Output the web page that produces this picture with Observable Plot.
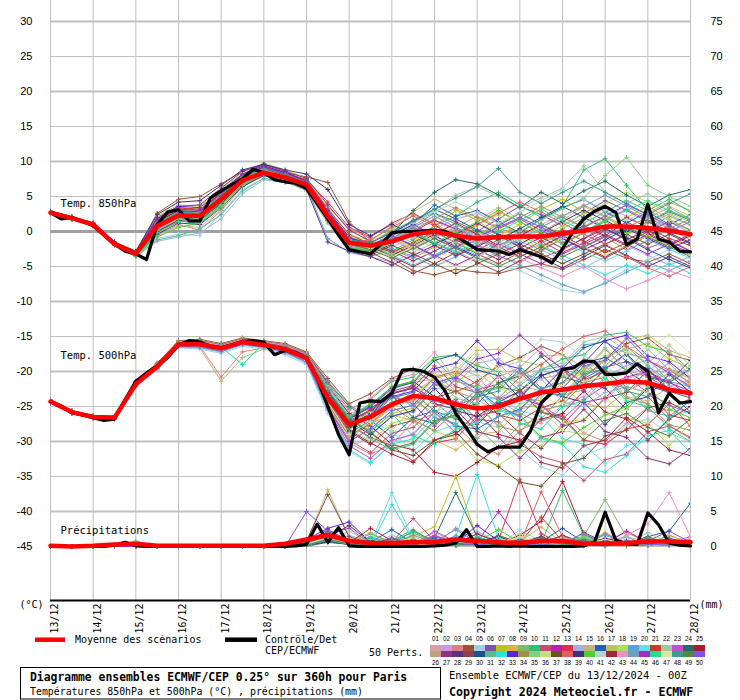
<!DOCTYPE html>
<html><head><meta charset="utf-8">
<script src="https://cdn.jsdelivr.net/npm/d3@7"></script>
<script src="https://cdn.jsdelivr.net/npm/@observablehq/plot@0.6"></script>
<style>
html,body{margin:0;padding:0;background:#fff;}
#wrap{position:relative;width:740px;height:700px;overflow:hidden;background:#fff;}
#chart{position:absolute;left:0;top:0;}
#legend{position:absolute;left:0;top:635px;}
</style></head>
<body><div id="wrap"><div id="chart"></div><div id="legend"></div></div>
<script>
const dayLabels = ["13/12","14/12","15/12","16/12","17/12","18/12","19/12","20/12","21/12","22/12","23/12","24/12","25/12","26/12","27/12","28/12"];
const tempTicks = [30,25,20,15,10,5,0,-5,-10,-15,-20,-25,-30,-35,-40,-45];
const memberColors = ["#d4a0a8","#cc99e6","#e08080","#a05030","#a0d0e8","#8050b0","#c0c020","#d8b050","#80b870","#30c070","#c05070","#b820b0","#e03050","#a0b0e0","#c8b080","#2060b8","#c0c060","#b0e050","#60a0d8","#60e0e8","#c04020","#a0c8a0","#c050d0","#207060","#b01830","#c0a080","#903080","#603080","#904050","#205090","#50c090","#30e0e0","#6020e0","#a09050","#80d080","#c0e080","#705020","#e06060","#403080","#50d030","#b0d8c8","#a02840","#e890c8","#70a0b8","#a030c0","#20e090","#d8e8a0","#409890","#508840","#8050f0"];

// Members: one value every 12 h from 13/12 00Z
const t850 = [
[2.8,2.0,1.1,-1.7,-3.1,1.2,2.8,2.4,5.0,7.6,8.8,7.9,7.2,2.5,-1.2,-2.4,-1.0,0.8,1.5,0.2,-1.5,-2.2,-0.8,1.0,2.4,0.5,-1.8,-0.6,1.2,2.5,0.8],
[2.6,1.8,0.9,-1.9,-3.3,0.4,2.0,1.6,4.2,7.0,8.3,7.4,6.2,1.8,-2.4,-3.0,-2.2,-1.0,0.4,1.8,2.6,1.2,-0.4,-1.6,-0.5,1.6,3.4,2.2,0.6,1.4,-0.2],
[2.7,1.9,1.0,-1.8,-3.4,-0.6,1.0,0.2,3.0,6.4,8.0,7.6,7.0,3.6,0.4,-1.0,-2.6,-3.8,-2.2,-0.4,-1.8,-3.6,-4.4,-2.8,-1.0,0.6,-0.8,-2.6,-1.4,0.4,-1.2],
[2.9,2.1,1.2,-1.5,-2.9,2.6,4.6,5.0,6.8,8.6,9.4,8.4,7.8,7.0,1.4,-1.6,-3.8,-5.6,-6.2,-5.4,-5.8,-6.0,-5.2,-4.6,-5.4,-4.0,-2.6,-3.8,-4.4,-3.2,-4.6],
[2.5,1.7,0.8,-2.0,-3.5,-1.0,-0.4,-0.6,2.6,6.0,7.6,7.2,6.0,1.4,-2.0,-2.8,-1.4,0.2,-0.8,-2.4,-3.6,-4.8,-5.6,-7.0,-8.4,-8.8,-7.2,-5.4,-4.0,-2.6,-3.4],
[2.8,2.0,1.1,-1.6,-3.0,1.0,2.6,2.0,4.8,7.4,8.6,7.8,6.8,2.2,-1.6,-2.0,-0.4,1.6,2.6,1.4,0.0,1.8,3.6,2.4,0.8,2.6,4.4,3.0,1.4,2.8,1.6],
[2.7,1.9,1.0,-1.8,-3.2,0.8,2.4,2.6,4.4,7.2,8.6,8.0,6.6,2.0,-2.2,-3.4,-3.0,-1.6,0.8,3.0,1.6,-0.6,1.0,3.2,4.6,2.8,0.4,2.0,3.6,1.8,0.2],
[2.6,1.8,0.9,-1.9,-3.1,1.6,3.2,2.8,5.6,8.0,9.0,8.2,7.4,3.0,-0.8,-1.6,0.2,2.4,1.2,-0.6,1.0,2.8,1.4,-0.4,-1.8,-0.2,1.8,3.8,2.6,4.2,3.0],
[2.8,2.0,1.1,-1.7,-3.3,0.2,1.6,1.2,3.6,6.8,8.2,7.2,5.8,1.2,-2.6,-2.2,-0.8,-2.0,-3.4,-1.6,0.2,-1.4,-3.0,-1.8,0.4,2.0,0.6,-1.2,0.4,2.2,1.0],
[2.7,1.9,1.0,-1.8,-3.2,1.2,2.8,2.2,4.6,7.4,8.8,7.6,6.6,2.4,-1.4,-1.8,-2.8,-1.2,0.8,2.2,4.2,5.6,3.8,2.0,3.6,8.8,10.4,6.6,3.0,4.6,2.8],
[2.6,1.8,0.9,-1.9,-3.4,0.0,1.4,1.8,4.0,6.6,8.0,7.4,6.8,2.8,-1.0,-2.6,-1.6,-0.2,-1.6,-3.2,-2.0,-0.4,-2.2,-3.8,-2.6,-1.0,0.8,-0.8,-2.4,-1.2,-2.8],
[2.8,2.0,1.1,-1.7,-3.0,0.6,2.2,2.0,5.2,8.2,9.6,8.6,7.0,1.6,-2.8,-3.2,-1.8,0.0,1.6,0.4,-1.2,0.8,2.6,1.0,-0.6,-2.2,-0.6,1.4,-0.2,-1.8,-3.0],
[2.7,1.9,1.0,-1.8,-3.2,1.8,3.4,3.0,5.6,8.2,9.2,8.0,7.4,4.2,0.6,-0.8,1.2,2.6,1.0,-1.0,-2.6,-1.2,0.4,-1.4,-3.0,-1.6,0.2,2.0,0.6,-1.0,-2.0],
[2.5,1.7,0.8,-2.0,-3.6,-1.4,-0.8,-0.2,1.8,5.4,7.4,7.0,6.2,2.6,-1.8,-3.6,-4.4,-3.0,-1.6,-2.8,-4.2,-3.0,-1.4,-2.6,-4.0,-5.2,-3.6,-2.0,-3.4,-4.8,-3.6],
[2.8,2.0,1.1,-1.6,-3.0,1.4,3.0,2.6,5.2,7.8,9.0,8.2,7.2,2.8,-1.2,-1.4,0.8,2.8,4.6,3.2,1.6,3.4,1.8,0.0,1.6,3.6,2.0,0.4,2.2,0.6,-0.8],
[2.6,1.8,0.9,-1.9,-3.3,0.8,2.4,1.6,4.2,7.0,8.4,7.6,6.6,2.0,-2.0,-2.6,-0.6,1.0,3.8,2.2,3.0,1.4,-0.2,1.8,3.4,4.6,2.8,1.2,2.8,1.0,2.4],
[2.7,1.9,1.0,-1.8,-3.1,1.0,2.6,2.4,4.8,7.6,8.8,7.8,6.8,2.2,-1.6,-2.4,-3.6,-2.2,-0.6,-2.0,-0.4,1.2,-0.4,-2.0,-0.8,0.8,2.2,0.6,-0.8,0.8,-0.6],
[2.9,2.1,1.2,-1.5,-2.8,2.2,3.8,3.6,6.0,8.4,9.8,8.8,7.6,3.4,-0.6,-1.2,0.6,-0.8,-2.4,-1.0,0.8,2.4,0.8,-0.8,0.8,2.6,4.0,5.6,4.2,2.6,1.4],
[2.6,1.8,0.9,-1.9,-3.4,0.0,1.6,1.0,3.8,6.8,8.2,7.4,6.4,-1.0,-3.0,-3.6,-2.4,-3.6,-5.0,-3.6,-2.0,-3.4,-4.8,-6.2,-7.6,-8.6,-7.4,-5.8,-4.4,-5.6,-4.2],
[2.7,1.9,1.0,-1.8,-3.2,0.6,2.2,1.4,4.4,7.2,8.6,7.8,6.8,2.4,-1.4,-2.2,-1.0,-2.4,-0.8,0.6,-1.0,-2.6,-1.2,0.4,-1.4,-3.0,-4.2,-2.8,-1.2,-2.6,-3.8],
[2.8,2.0,1.1,-1.7,-3.1,1.6,3.4,3.2,5.4,8.0,9.2,8.4,7.4,3.2,-0.4,-1.8,-3.0,-1.6,0.0,-1.6,-3.2,-4.6,-3.0,-1.4,0.2,-1.4,-3.0,-1.6,0.0,1.4,0.2],
[2.5,1.7,0.8,-2.0,-3.5,-0.6,0.8,0.6,3.2,6.6,8.4,7.8,6.4,1.8,-2.2,-2.0,-0.6,1.2,3.0,5.2,6.4,5.0,3.4,4.8,6.2,9.4,5.6,4.0,5.4,3.6,2.2],
[2.7,1.9,1.0,-1.8,-3.2,1.2,2.6,2.2,4.6,7.4,8.8,8.0,7.0,2.6,-1.2,-2.6,-1.2,0.4,-1.0,-2.4,-1.2,0.4,1.8,0.2,-1.6,-0.2,1.6,3.2,1.6,0.0,1.4],
[2.6,1.8,0.9,-1.9,-3.0,0.4,2.0,1.8,4.0,6.8,8.2,7.4,6.2,1.8,-2.4,-2.8,-0.4,3.0,5.6,7.4,6.8,5.2,3.4,5.6,4.0,5.8,7.2,5.2,3.6,5.2,6.0],
[2.8,2.0,1.1,-1.7,-3.3,0.8,2.4,2.2,4.8,7.6,8.8,7.8,6.6,2.0,-1.8,-2.2,-3.4,-2.0,-0.4,1.2,-0.4,-2.0,-0.6,1.0,-0.6,-2.2,-3.6,-2.0,-0.4,-2.0,-0.6],
[2.7,1.9,1.0,-1.8,-3.2,1.0,2.6,2.4,5.0,7.8,9.0,8.2,7.0,2.4,-1.4,-2.4,-1.0,0.6,-0.8,0.6,2.2,0.6,-1.0,0.6,2.2,3.8,2.2,0.6,2.0,3.4,1.8],
[2.9,2.1,1.2,-1.5,-2.9,2.0,3.6,3.8,6.2,8.6,9.6,8.6,7.6,3.8,0.2,-1.4,-2.8,-4.2,-2.8,-1.2,-2.6,-4.0,-2.4,-0.8,-2.4,-1.0,0.4,-1.2,0.2,-1.4,-2.8],
[2.6,1.8,0.9,-1.9,-3.4,-0.4,1.2,1.0,3.4,6.4,8.0,7.2,6.0,-1.5,-2.8,-3.6,-4.8,-3.4,-2.0,-3.4,-2.2,-0.6,-2.2,-3.8,-5.2,-3.6,-2.0,-3.4,-5.0,-3.6,-5.0],
[2.7,1.9,1.0,-1.8,-3.2,0.6,2.2,2.6,4.6,7.2,8.4,7.6,6.8,2.2,-1.6,-3.0,-4.4,-6.0,-4.6,-3.0,-4.4,-5.8,-4.2,-2.6,-1.0,-2.4,-3.8,-2.2,-0.6,-2.0,-3.4],
[2.8,2.0,1.1,-1.7,-3.1,1.4,3.0,2.8,5.4,8.0,9.2,8.2,7.2,2.8,-1.0,-1.6,-0.2,1.4,3.2,1.8,0.2,-1.2,0.4,2.0,3.6,2.0,0.4,-1.0,-2.6,-4.0,-5.2],
[2.5,1.7,0.8,-2.0,-3.6,-1.2,-0.6,0.4,2.4,5.8,7.6,7.0,6.4,2.0,-2.0,-2.6,-1.0,0.8,2.6,1.0,-0.6,1.0,2.6,1.0,-0.4,1.2,2.8,4.4,3.0,1.6,0.2],
[2.7,1.9,1.0,-1.8,-3.2,1.0,2.4,2.0,4.6,7.4,8.6,7.8,6.8,2.4,-1.4,-2.2,-3.4,-4.8,-3.4,-2.0,-3.4,-2.0,-0.6,-2.0,-3.4,-4.8,-6.2,-4.8,-6.0,-4.6,-6.0],
[2.8,2.0,1.1,-1.6,-3.0,1.8,3.6,3.4,5.8,8.2,9.4,8.4,7.2,3.0,-0.8,-2.0,-0.6,1.0,-0.6,-2.2,-3.6,-2.2,-0.8,0.6,-1.0,-2.6,-1.2,0.4,-1.0,-2.4,-1.2],
[2.6,1.8,0.9,-1.9,-3.3,0.2,1.8,1.4,3.8,6.8,8.2,7.6,6.6,2.0,-1.8,-2.8,-1.4,0.2,1.8,3.4,2.0,0.4,2.0,3.6,2.0,0.6,2.0,0.6,-0.8,0.6,-0.8],
[2.7,1.9,1.0,-1.8,-3.2,0.8,2.4,2.0,4.4,7.2,8.6,7.8,6.6,2.2,-1.6,-2.0,-3.2,-1.8,-0.2,-1.6,-3.0,-1.6,0.0,1.6,3.2,4.8,8.0,10.6,6.6,5.0,3.6],
[2.8,2.0,1.1,-1.7,-3.1,1.2,2.8,2.6,5.0,7.6,8.8,8.0,7.0,2.6,-1.2,-2.4,-1.0,-2.4,-3.8,-2.4,-1.0,0.4,-1.0,-2.4,-1.0,0.6,2.0,0.6,-0.8,-2.2,-0.8],
[2.6,1.8,0.9,-1.9,-3.4,0.0,1.6,1.6,4.0,7.0,8.4,7.4,6.2,1.6,-2.2,-3.4,-2.0,-3.2,-4.6,-6.0,-4.6,-3.2,-1.8,-3.2,-4.6,-3.2,-1.8,-0.4,-1.8,-0.4,-1.8],
[2.7,1.9,1.0,-1.8,-3.2,1.0,2.6,2.2,4.6,7.2,8.6,7.8,6.8,2.2,-1.6,-1.2,0.6,2.2,0.8,-0.8,1.0,2.6,4.2,2.8,1.2,-0.4,-1.8,-3.6,-5.2,-6.4,-5.0],
[2.9,2.1,1.2,-1.5,-2.8,2.4,4.2,4.4,6.6,8.8,9.6,8.8,8.2,6.0,1.0,-0.6,1.0,-0.4,-1.8,-0.4,1.2,-0.4,-1.8,-0.2,1.4,3.0,1.6,0.0,1.4,-0.2,-1.6],
[2.5,1.7,0.8,-2.0,-3.5,-0.8,0.6,1.2,3.4,6.6,8.2,7.6,6.4,1.8,-2.0,-2.8,-1.6,-0.2,-1.6,-0.2,1.4,3.0,1.4,-0.2,-1.8,-0.2,1.4,-0.2,1.4,3.0,1.8],
[2.7,1.9,1.0,-1.8,-3.2,0.6,2.2,1.8,4.4,7.2,8.6,7.8,6.6,2.2,-1.4,-1.8,-0.4,1.2,2.8,4.2,2.8,1.2,2.8,4.4,6.0,4.6,3.0,1.6,3.0,1.6,0.0],
[2.8,2.0,1.1,-1.7,-3.1,1.4,3.0,2.4,5.0,7.8,9.0,8.0,7.0,2.6,-1.0,-2.2,-3.6,-5.0,-3.6,-2.2,-0.8,-2.2,-3.6,-2.2,-0.6,0.8,-0.6,-2.0,-0.6,0.8,-0.6],
[2.6,1.8,0.9,-1.9,-3.3,0.2,1.8,1.2,3.8,6.8,8.2,7.4,6.4,1.8,-2.0,-2.6,-1.2,-2.6,-1.0,0.6,-0.8,-2.4,-3.8,-5.2,-6.4,-5.0,-6.8,-8.2,-7.0,-5.6,-6.6],
[2.7,1.9,1.0,-1.8,-3.2,1.0,2.6,2.4,4.8,7.6,8.8,7.8,6.8,2.4,-1.4,-2.4,-1.0,0.6,2.2,0.6,-1.0,-2.6,-1.0,0.6,2.2,3.6,5.2,3.6,2.0,0.4,1.8],
[2.8,2.0,1.1,-1.6,-3.0,1.6,3.2,3.0,5.4,8.0,9.2,8.2,7.2,2.8,-1.0,-2.0,-0.6,-2.0,-3.4,-4.8,-3.4,-1.8,-3.2,-4.6,-3.2,-1.8,-0.4,-1.8,-3.2,-1.8,-0.4],
[2.6,1.8,0.9,-1.9,-3.4,-0.2,1.4,1.4,3.8,6.8,8.2,7.4,6.4,1.8,-2.2,-3.0,-1.6,0.0,-1.6,-3.0,-1.6,0.0,1.6,3.2,1.6,0.0,1.6,3.0,4.4,3.0,1.6],
[2.7,1.9,1.0,-1.8,-3.2,0.8,2.4,2.2,4.6,7.4,8.6,7.8,6.6,2.2,-1.4,-2.4,-3.6,-2.2,-3.6,-5.0,-3.6,-2.2,-0.8,0.6,-0.8,-2.2,-3.4,-2.0,-0.6,-2.0,-3.4],
[2.8,2.0,1.1,-1.7,-3.1,1.2,2.8,2.6,5.2,7.8,9.0,8.2,7.0,2.6,-1.2,-1.6,0.0,1.6,3.2,4.8,6.4,9.0,5.6,4.0,5.6,7.2,5.6,4.0,2.4,4.0,5.4],
[2.6,1.8,0.9,-1.9,-3.3,0.4,2.0,1.6,4.2,7.0,8.4,7.6,6.4,2.0,-1.8,-2.6,-3.8,-2.4,-1.0,-2.4,-3.8,-5.0,-3.6,-2.2,-3.6,-2.2,-0.8,0.6,-0.8,-2.2,-3.6],
[2.7,1.9,1.0,-1.8,-3.2,1.0,2.6,2.0,4.6,7.4,8.6,7.8,6.8,2.4,-1.4,-2.0,-0.6,-2.0,-3.6,-2.2,-0.8,0.6,2.0,0.6,-0.8,0.6,2.2,3.8,2.4,0.8,-0.6]
];

const t500 = [
[-24.2,-25.7,-26.4,-26.5,-21.6,-19.0,-15.8,-15.8,-16.4,-15.4,-15.8,-16.4,-17.6,-22.4,-26.0,-25.0,-22.6,-21.4,-20.2,-22.8,-24.0,-25.8,-23.2,-21.0,-20.4,-18.2,-19.6,-22.8,-21.4,-19.6,-20.8],
[-24.4,-25.9,-26.6,-26.8,-22.0,-19.6,-16.4,-16.2,-17.0,-16.0,-16.4,-17.0,-18.4,-24.4,-28.6,-27.6,-25.2,-22.8,-21.2,-19.4,-20.6,-24.2,-26.0,-27.4,-24.8,-23.6,-20.8,-19.2,-18.4,-20.2,-22.4],
[-24.3,-25.8,-26.5,-26.6,-21.8,-19.2,-16.0,-16.4,-20.8,-17.2,-16.6,-17.2,-18.6,-25.2,-30.2,-31.8,-30.4,-27.2,-26.0,-27.8,-30.6,-31.8,-28.4,-27.0,-26.2,-28.8,-30.0,-27.4,-25.2,-27.8,-29.6],
[-24.1,-25.6,-26.3,-26.4,-21.4,-18.8,-15.6,-15.4,-16.0,-15.2,-15.6,-16.0,-17.2,-21.0,-24.6,-23.2,-21.0,-19.6,-21.8,-23.0,-21.4,-19.2,-18.0,-16.4,-17.6,-20.8,-18.4,-16.0,-15.2,-17.6,-18.4],
[-24.5,-26.0,-26.7,-26.9,-22.2,-19.8,-16.6,-16.8,-17.4,-16.4,-16.8,-17.6,-19.0,-26.0,-31.4,-33.2,-30.2,-28.8,-25.8,-24.6,-27.2,-28.0,-31.2,-33.6,-34.8,-32.0,-30.8,-27.6,-26.8,-28.8,-30.0],
[-24.3,-25.8,-26.5,-26.6,-21.8,-19.4,-16.2,-16.0,-16.8,-15.8,-16.2,-16.8,-18.2,-23.2,-27.0,-25.6,-23.0,-22.4,-24.2,-25.0,-22.6,-21.8,-20.2,-22.8,-23.4,-21.0,-19.4,-18.6,-20.8,-22.4,-23.0],
[-24.2,-25.7,-26.4,-26.5,-21.6,-19.1,-15.9,-15.9,-16.5,-15.6,-16.0,-16.6,-17.8,-22.8,-26.8,-28.4,-26.0,-25.2,-22.0,-20.4,-19.0,-21.6,-23.8,-24.2,-21.6,-20.2,-17.8,-16.8,-16.0,-18.2,-19.6],
[-24.4,-25.9,-26.6,-26.7,-22.0,-19.5,-16.3,-16.3,-16.9,-16.0,-16.4,-17.0,-18.4,-24.0,-29.0,-27.4,-26.2,-27.0,-29.8,-31.2,-29.0,-28.6,-25.4,-24.6,-22.2,-24.6,-25.2,-22.8,-21.2,-20.4,-22.0],
[-24.3,-25.8,-26.5,-26.6,-21.8,-19.3,-16.1,-16.1,-16.7,-15.8,-16.2,-16.8,-18.0,-23.6,-28.0,-26.2,-24.6,-21.8,-24.4,-26.8,-28.0,-30.8,-27.6,-26.8,-23.4,-22.6,-19.8,-22.6,-24.8,-25.6,-23.8],
[-24.2,-25.7,-26.4,-26.5,-21.6,-19.0,-15.7,-15.6,-16.2,-15.3,-15.7,-16.2,-17.4,-21.8,-25.4,-24.0,-21.4,-20.8,-18.0,-17.6,-19.2,-20.0,-22.8,-19.8,-18.2,-17.6,-14.8,-14.4,-16.4,-17.2,-19.8],
[-24.4,-25.9,-26.6,-26.7,-21.9,-19.5,-16.3,-16.2,-16.9,-16.0,-16.4,-17.1,-18.6,-25.0,-29.8,-31.6,-28.8,-28.0,-25.0,-24.0,-26.8,-27.2,-30.4,-32.2,-33.0,-35.6,-32.6,-31.8,-28.6,-27.8,-29.4],
[-24.3,-25.8,-26.5,-26.6,-21.8,-19.3,-16.1,-16.0,-16.6,-15.8,-16.2,-16.8,-18.0,-23.0,-26.6,-25.2,-23.6,-24.6,-27.8,-24.8,-23.8,-20.6,-23.8,-24.8,-27.6,-24.4,-23.8,-20.8,-20.0,-21.6,-22.8],
[-24.2,-25.7,-26.4,-26.5,-21.7,-19.2,-16.0,-15.9,-16.5,-15.6,-16.0,-16.6,-17.8,-22.6,-27.6,-29.4,-30.6,-32.8,-30.2,-29.6,-26.4,-25.6,-22.6,-25.8,-26.4,-29.8,-30.4,-28.2,-27.6,-24.6,-27.8],
[-24.5,-26.0,-26.7,-26.8,-22.1,-19.7,-16.5,-16.6,-17.2,-16.2,-16.6,-17.4,-18.8,-25.6,-31.0,-29.2,-26.4,-25.8,-22.6,-21.8,-18.8,-18.2,-20.4,-21.0,-24.4,-25.0,-23.0,-22.2,-19.2,-22.0,-23.2],
[-24.3,-25.8,-26.5,-26.6,-21.8,-19.3,-16.0,-16.6,-21.4,-18.0,-16.8,-17.0,-18.2,-23.4,-27.4,-25.8,-24.6,-21.6,-21.0,-23.0,-23.8,-21.6,-20.8,-17.8,-17.6,-19.4,-20.2,-23.6,-24.2,-22.2,-21.2],
[-24.1,-25.6,-26.3,-26.4,-21.5,-18.9,-15.7,-15.6,-16.2,-15.4,-15.8,-16.2,-17.4,-21.6,-25.0,-27.0,-29.4,-26.6,-25.6,-27.8,-28.2,-26.4,-25.4,-22.4,-21.6,-18.8,-18.0,-19.8,-22.0,-23.0,-25.8],
[-24.4,-25.9,-26.6,-26.7,-22.0,-19.5,-16.3,-16.4,-17.0,-16.1,-16.5,-17.2,-18.6,-24.8,-29.4,-27.6,-25.0,-24.2,-21.0,-20.2,-17.0,-16.8,-18.4,-19.2,-22.4,-19.4,-18.6,-15.4,-14.8,-17.0,-18.0],
[-24.3,-25.8,-26.5,-26.6,-21.8,-19.3,-16.1,-16.1,-16.8,-15.8,-16.2,-16.8,-18.1,-23.8,-28.2,-30.0,-27.4,-26.6,-28.6,-29.4,-32.6,-33.4,-31.4,-30.6,-27.4,-26.8,-23.6,-26.6,-27.4,-30.6,-27.4],
[-24.2,-25.7,-26.4,-26.5,-21.6,-19.1,-15.8,-15.8,-16.4,-15.5,-15.9,-16.4,-17.6,-22.2,-26.4,-24.6,-23.2,-25.0,-22.0,-21.0,-23.2,-24.0,-22.0,-19.8,-19.2,-16.2,-15.8,-17.4,-18.2,-21.4,-22.2],
[-24.4,-25.9,-26.6,-26.7,-21.9,-19.4,-16.2,-16.3,-16.9,-15.9,-16.3,-16.9,-18.3,-24.2,-28.8,-27.0,-28.6,-31.4,-28.6,-27.6,-24.4,-23.6,-25.6,-26.4,-29.6,-30.4,-33.2,-30.6,-29.8,-26.6,-25.6],
[-24.3,-25.8,-26.5,-26.6,-21.8,-19.3,-16.0,-16.0,-16.6,-15.7,-16.1,-16.7,-17.9,-23.2,-27.2,-25.6,-23.2,-22.2,-19.2,-22.2,-23.0,-26.2,-27.0,-25.2,-24.2,-21.2,-20.0,-22.2,-23.0,-26.2,-27.0],
[-24.2,-25.7,-26.4,-26.5,-21.7,-19.2,-15.9,-15.9,-16.5,-15.6,-16.0,-16.6,-17.8,-22.4,-26.2,-28.2,-25.6,-24.8,-21.6,-20.8,-17.6,-20.8,-21.6,-19.6,-18.8,-15.8,-15.0,-17.0,-18.8,-16.2,-19.2],
[-24.5,-26.0,-26.7,-26.8,-22.1,-19.6,-16.4,-16.5,-17.1,-16.1,-16.5,-17.2,-18.6,-25.4,-30.6,-32.4,-29.8,-29.0,-25.8,-28.8,-27.0,-24.0,-23.0,-24.8,-26.8,-24.0,-22.0,-20.8,-23.0,-24.8,-26.0],
[-24.3,-25.8,-26.5,-26.6,-21.8,-19.3,-16.1,-16.1,-16.7,-15.8,-16.2,-16.8,-18.1,-23.6,-27.8,-26.0,-23.4,-26.6,-27.4,-25.4,-24.6,-21.6,-20.6,-17.8,-20.8,-21.6,-19.6,-17.6,-20.8,-21.6,-19.6],
[-24.1,-25.6,-26.3,-26.4,-21.5,-19.0,-15.7,-15.7,-16.3,-15.4,-15.8,-16.3,-17.5,-22.0,-26.0,-27.8,-30.4,-31.2,-34.4,-35.0,-33.0,-30.8,-30.0,-26.8,-26.0,-22.8,-25.8,-26.8,-29.8,-26.8,-25.0],
[-24.4,-25.9,-26.6,-26.7,-22.0,-19.5,-16.3,-16.2,-16.9,-16.0,-16.4,-17.0,-18.4,-24.6,-29.2,-27.4,-24.8,-24.0,-26.0,-22.8,-22.0,-18.8,-22.0,-22.8,-20.8,-20.0,-16.8,-19.8,-20.8,-18.8,-22.0],
[-24.3,-25.8,-26.5,-26.6,-21.8,-19.3,-16.1,-16.1,-16.7,-15.8,-16.2,-16.8,-18.1,-23.6,-27.6,-25.8,-23.2,-22.4,-24.6,-25.4,-28.6,-29.4,-32.4,-29.4,-28.6,-25.4,-28.6,-29.4,-32.4,-33.2,-31.0],
[-24.2,-25.7,-26.4,-26.5,-21.6,-19.1,-15.9,-15.8,-16.4,-15.5,-15.9,-16.5,-17.7,-22.6,-26.6,-24.8,-22.2,-21.4,-23.6,-24.4,-27.6,-24.6,-23.6,-20.6,-19.6,-21.6,-22.4,-25.4,-22.4,-21.4,-18.4],
[-24.4,-25.9,-26.6,-26.7,-21.9,-19.4,-16.2,-16.3,-16.9,-15.9,-16.3,-17.0,-18.4,-24.2,-28.6,-30.4,-27.8,-27.0,-23.8,-22.8,-25.0,-26.0,-28.8,-31.0,-27.8,-27.0,-23.8,-23.0,-19.8,-22.8,-23.8],
[-24.3,-25.8,-26.5,-26.6,-21.8,-19.3,-16.1,-16.0,-16.6,-15.7,-16.1,-16.7,-17.9,-23.0,-26.8,-25.0,-22.4,-21.6,-18.4,-17.6,-19.8,-20.6,-23.8,-20.6,-19.6,-16.6,-15.6,-18.6,-19.6,-22.6,-23.4],
[-24.2,-25.7,-26.4,-26.5,-21.7,-19.2,-15.9,-16.0,-16.5,-15.6,-16.0,-16.6,-17.8,-23.2,-27.6,-29.6,-31.2,-30.4,-27.2,-26.4,-23.2,-22.4,-19.2,-22.4,-23.2,-20.2,-19.2,-16.4,-19.2,-21.4,-19.2],
[-24.5,-26.0,-26.7,-26.8,-22.1,-19.7,-16.5,-16.6,-17.2,-16.2,-16.6,-17.3,-18.7,-25.6,-31.2,-33.0,-30.4,-29.6,-26.4,-25.6,-22.4,-25.6,-26.4,-29.6,-30.4,-33.6,-34.4,-32.0,-29.2,-28.4,-31.6],
[-24.3,-25.8,-26.5,-26.6,-21.8,-19.3,-16.1,-16.1,-16.7,-15.8,-16.2,-16.8,-18.1,-23.8,-28.0,-26.2,-23.6,-22.8,-19.6,-18.8,-15.6,-18.8,-19.6,-22.8,-19.6,-18.8,-15.6,-14.8,-17.8,-18.6,-21.0],
[-24.1,-25.6,-26.3,-26.4,-21.5,-18.9,-15.7,-15.6,-16.2,-15.3,-15.7,-16.2,-17.3,-21.4,-24.8,-26.6,-25.0,-27.0,-28.4,-25.6,-24.8,-27.8,-28.6,-25.6,-24.8,-21.6,-20.8,-23.8,-24.6,-27.6,-28.4],
[-24.4,-25.9,-26.6,-26.7,-21.9,-19.5,-16.3,-16.2,-16.9,-16.0,-16.4,-17.0,-18.4,-24.4,-29.0,-27.2,-24.6,-23.8,-20.6,-23.8,-24.6,-27.8,-24.6,-23.8,-20.6,-19.8,-16.6,-19.8,-16.8,-19.8,-21.0],
[-24.3,-25.8,-26.5,-26.6,-21.8,-19.3,-16.1,-16.1,-16.7,-15.8,-16.2,-16.8,-18.1,-23.6,-27.6,-25.8,-28.4,-25.2,-24.4,-21.2,-20.4,-22.2,-24.2,-25.4,-28.4,-29.0,-26.2,-25.4,-22.2,-21.4,-19.2],
[-24.2,-25.7,-26.4,-26.5,-21.6,-19.1,-15.9,-15.9,-16.5,-15.6,-16.0,-16.6,-17.8,-22.8,-26.8,-28.6,-31.2,-32.0,-29.8,-28.6,-31.8,-33.6,-35.8,-36.4,-33.2,-32.4,-29.2,-28.4,-25.2,-24.4,-26.0],
[-24.4,-25.9,-26.6,-26.7,-22.0,-19.5,-16.3,-16.3,-16.9,-16.0,-16.4,-17.1,-18.5,-24.6,-29.2,-27.4,-24.8,-24.0,-20.8,-20.0,-21.8,-23.8,-20.8,-19.0,-16.8,-15.0,-14.2,-16.4,-18.4,-19.8,-21.6],
[-24.3,-25.8,-26.5,-26.6,-21.8,-19.3,-16.1,-16.0,-16.6,-15.8,-16.2,-16.8,-18.0,-23.4,-27.2,-29.0,-26.4,-25.6,-22.4,-25.6,-26.4,-24.4,-22.8,-20.4,-23.6,-24.4,-27.6,-24.4,-23.6,-20.4,-23.0],
[-24.2,-25.7,-26.4,-26.5,-21.7,-19.2,-16.0,-15.9,-16.5,-15.6,-16.0,-16.6,-17.8,-22.8,-26.6,-24.8,-22.2,-21.4,-18.2,-21.4,-22.2,-25.4,-26.2,-29.4,-30.2,-28.0,-26.2,-25.0,-22.2,-25.4,-26.6],
[-24.5,-26.0,-26.7,-26.8,-22.1,-19.6,-16.4,-16.5,-17.1,-16.1,-16.5,-17.2,-18.6,-25.2,-30.0,-28.2,-25.6,-24.8,-21.6,-24.8,-22.6,-19.4,-18.6,-15.4,-15.8,-17.8,-19.0,-22.2,-23.0,-20.0,-18.6],
[-24.3,-25.8,-26.5,-26.6,-21.8,-19.3,-16.1,-16.1,-16.7,-15.8,-16.2,-16.8,-18.1,-23.8,-28.4,-30.2,-31.8,-33.0,-29.8,-29.0,-25.8,-29.0,-29.8,-33.0,-33.8,-30.6,-29.8,-26.6,-28.6,-31.2,-32.0],
[-24.1,-25.6,-26.3,-26.4,-21.5,-19.0,-15.7,-15.7,-16.3,-15.4,-15.8,-16.3,-17.5,-22.0,-25.6,-23.8,-21.2,-20.4,-17.2,-21.2,-23.0,-20.8,-19.4,-16.6,-20.0,-21.4,-24.2,-21.0,-20.2,-17.0,-20.8],
[-24.4,-25.9,-26.6,-26.7,-21.9,-19.4,-16.2,-16.2,-16.8,-15.9,-16.3,-16.9,-18.3,-24.2,-28.8,-27.0,-24.4,-23.6,-26.6,-27.4,-29.6,-26.4,-25.6,-22.4,-21.6,-18.4,-21.6,-22.4,-25.6,-26.4,-24.2],
[-24.3,-25.8,-26.5,-26.6,-21.8,-19.3,-16.1,-16.0,-16.6,-15.7,-16.1,-16.7,-17.9,-23.2,-27.2,-25.4,-22.8,-22.0,-24.2,-21.0,-18.2,-17.4,-14.8,-17.4,-19.6,-22.8,-19.6,-17.4,-20.6,-21.4,-23.6],
[-24.2,-25.7,-26.4,-26.5,-21.6,-19.1,-15.9,-15.9,-16.5,-19.0,-16.0,-16.6,-17.8,-22.6,-26.6,-28.6,-26.0,-29.2,-30.4,-28.2,-27.4,-24.2,-27.4,-28.2,-25.0,-24.2,-21.0,-24.2,-25.0,-28.2,-30.0],
[-24.4,-25.9,-26.6,-26.7,-22.0,-19.5,-16.3,-16.3,-16.9,-16.0,-16.4,-17.0,-18.4,-24.4,-29.0,-27.2,-24.6,-23.8,-20.6,-19.8,-16.6,-19.8,-20.6,-23.8,-24.6,-21.4,-20.6,-17.4,-16.6,-14.8,-17.4],
[-24.3,-25.8,-26.5,-26.6,-21.8,-19.3,-16.1,-16.1,-16.7,-15.8,-16.2,-16.8,-18.1,-23.8,-28.2,-26.4,-23.8,-23.0,-25.6,-26.8,-23.6,-22.8,-19.6,-22.8,-23.6,-20.4,-19.6,-22.8,-23.6,-26.8,-24.0],
[-24.2,-25.7,-26.4,-26.5,-21.7,-19.2,-15.9,-16.0,-16.5,-15.6,-16.0,-16.6,-17.8,-22.8,-26.8,-28.8,-31.0,-30.2,-27.0,-26.2,-23.0,-22.2,-22.8,-25.8,-26.8,-29.8,-27.0,-26.0,-28.0,-29.2,-26.8],
[-24.5,-26.0,-26.7,-26.8,-22.1,-19.6,-16.4,-16.5,-17.1,-16.1,-16.5,-17.2,-18.6,-25.2,-30.0,-28.2,-25.6,-24.8,-21.6,-20.8,-22.6,-25.0,-26.4,-23.2,-22.4,-19.2,-18.4,-15.2,-18.4,-20.2,-22.2]
];

// precipitation (mm)
const precip = [
[0,0,0,0,0,0,0,0,0,0,0,0,0.2,1.0,0.4,0.2,0.8,1.4,0.3,0.1,0.6,1.6,0.4,0,0.5,1.2,0.2,0,0.6,0.9,0.3],
[0,0,0,0,0,0,0,0,0,0,0,0,0,0.6,1.2,0.3,0.1,0.5,2.0,0.6,0.2,0.3,1.0,0.4,0.1,0.7,1.8,0.5,0.2,0.4,1.1],
[0,0,0,0.3,0,0,0,0,0,0,0,0,0.4,2.2,0.6,0.2,0.4,1.0,0.3,2.6,0.8,0.2,0.5,1.4,0.3,0.1,0.8,2.0,0.6,0.2,0.5],
[0,0,0,0,0,0,0,0,0,0,0,0,0.1,0.8,0.3,1.2,0.5,0.2,0.6,0.4,1.8,0.6,0.1,0.3,0.9,0.2,0.1,0.5,1.4,0.4,0.2],
[0,0,0,0,0.6,0,0,0,0,0,0,0,0.3,1.4,0.5,0.1,1.6,0.4,0.2,0.8,0.3,0.1,2.4,0.7,0.2,0.5,0.2,1.0,0.3,0.1,0.6],
[0,0,0,0,0,0,0,0,0,0,0,0,0.5,1.8,2.6,0.4,0.2,0.6,1.2,0.3,0.1,0.8,0.3,0.2,1.6,0.5,0.2,0.3,0.8,2.2,0.6],
[0,0,0,0,0,0,0,0,0,0,0,0,0.2,0.9,0.3,0.1,0.4,1.5,2.8,10.0,1.2,0.3,0.6,0.2,0.1,0.5,1.0,0.3,0.2,0.6,0.4],
[0,0,0,0,0,0,0,0,0,0,0,0,0.1,1.1,0.6,2.0,0.4,0.1,0.3,1.0,0.4,0.2,0.7,2.8,0.5,0.2,0.4,0.1,1.2,0.3,0.8],
[0,0,0,0,0.8,0,0,0,0,0,0,0,0.6,2.4,0.8,0.3,0.5,0.2,0.9,0.3,0.1,1.2,0.4,0.2,0.6,1.5,6.7,1.4,0.3,0.2,0.5],
[0,0,0,0,0,0,0,0,0,0,0,0,0.3,1.6,0.4,0.2,0.8,2.4,0.5,0.2,0.6,0.3,1.1,0.4,8.0,1.6,0.3,0.2,0.7,0.3,0.1],
[0,0,0,0,0,0,0,0,0,0,0,0,0.4,1.2,0.5,1.8,0.6,4.0,0.8,0.3,0.2,0.7,0.3,1.3,0.5,0.2,0.6,0.2,0.4,1.6,0.5],
[0,0,0,0,0,0,0,0,0,0,0,0,0.2,2.0,0.6,0.3,0.2,0.9,0.4,1.5,0.6,5.0,0.8,0.3,0.2,1.0,0.4,2.2,0.6,0.3,0.8],
[0,0,0,0,0,0,0,0,0,0,0,0,0.3,1.3,0.4,0.1,0.6,0.3,1.6,0.5,0.2,0.9,9.6,1.8,0.4,0.2,0.6,0.3,1.1,0.4,0.2],
[0,0,0,0,0,0,0,0,0,0,0,0,0.1,0.7,1.6,0.5,0.2,0.4,0.1,0.8,2.2,0.5,0.2,0.6,0.3,1.3,0.4,0.2,0.5,1.0,0.3],
[0,0,0,0,0,0,0,0,0,0,0,0,0.4,1.9,0.7,0.2,1.2,0.4,0.3,0.6,0.2,1.4,0.5,0.2,0.3,0.8,0.3,1.5,0.4,0.2,0.6],
[0,0,0,0,0,0,0,0,0,0,0,0,0.2,1.0,0.3,0.6,2.4,0.5,0.2,0.4,1.2,0.3,0.1,0.7,2.6,0.6,0.2,0.4,1.4,2.2,6.2],
[0,0,0,0,0,0,0,0,0,0,0,0,0.6,8.1,1.2,0.3,0.5,0.2,0.8,0.3,0.6,0.2,1.0,0.4,0.2,0.5,0.3,0.9,0.4,0.2,0.6],
[0,0,0,0,0,0,0,0,0,0,0,0,0.3,1.5,0.8,0.3,0.2,1.8,0.6,0.2,0.5,1.2,0.4,0.2,0.8,0.3,2.0,0.6,0.2,0.4,0.9],
[0,0,0,0,0,0,0,0,0,0,0,0,0.2,0.9,0.4,1.4,0.5,0.2,0.7,2.4,0.6,0.2,0.4,0.9,0.3,0.2,0.6,1.3,0.4,0.8,0.2],
[0,0,0,0,0,0,0,0,0,0,0,0,0.5,1.7,0.6,0.3,7.7,1.0,0.4,0.2,0.8,0.3,1.2,0.5,0.2,0.6,0.2,0.4,1.1,0.3,0.5],
[0,0,0,0,0,0,0,0,0,0,0,0,0.3,1.2,0.4,0.2,0.6,0.3,1.0,0.4,0.2,1.6,0.5,4.2,0.8,0.3,0.2,0.6,0.2,0.9,0.4],
[0,0,0,0,0,0,0,0,0,0,0,0,0.2,0.8,2.2,0.5,0.2,0.4,0.9,0.3,0.1,0.5,1.4,0.4,0.2,0.7,0.3,0.2,2.0,0.6,0.3],
[0,0,0,0,0,0,0,0,0,0,0,0,0.4,1.6,0.5,0.2,0.9,0.3,2.2,0.7,0.2,0.4,0.2,1.0,0.4,0.2,1.8,0.5,0.3,0.6,1.4],
[0,0,0,0,0,0,0,0,0,0,0,0,0.1,0.6,0.3,0.8,0.4,0.2,1.2,7.7,1.4,0.4,0.2,0.6,0.3,0.2,0.8,0.3,0.2,0.5,0.3],
[0,0,0,0,0,0,0,0,0,0,0,0,0.5,1.4,0.6,0.2,0.4,1.0,0.3,0.2,0.6,0.4,1.6,3.6,9.3,1.8,0.4,0.2,0.6,0.3,0.2],
[0,0,0,0,0,0,0,0,0,0,0,0,0.3,1.1,0.4,0.2,0.7,0.3,0.1,0.9,0.4,0.2,0.5,0.2,1.2,0.4,0.2,0.7,0.3,1.0,0.4],
[0,0,0,0,0,0,0,0,0,0,0,0,0.2,1.8,0.7,0.3,1.2,0.4,0.2,0.5,1.8,0.6,0.2,0.4,0.2,2.0,0.6,0.2,0.4,0.8,0.3],
[0,0,0,0,0,0,0,0,0,0,0,0,0.4,1.3,3.0,0.6,0.2,0.5,0.3,1.0,0.4,0.2,0.6,1.4,0.4,0.2,0.5,0.2,0.8,0.3,0.2],
[0,0,0,0,0,0,0,0,0,0,0,0,0.8,7.4,1.4,0.4,0.2,0.6,0.3,0.2,0.9,0.3,0.2,0.5,1.6,0.5,0.2,0.4,0.2,0.7,0.3],
[0,0,0,0,0,0,0,0,0,0,0,0,0.2,0.7,0.3,0.9,0.3,0.1,0.5,0.2,0.6,1.4,0.4,0.2,0.3,0.8,0.3,0.2,1.2,0.4,0.2],
[0,0,0,0,0,0,0,0,0,0,0,0,0.3,1.5,0.5,0.2,0.8,2.0,0.6,0.2,0.4,0.2,0.9,0.3,0.2,0.6,1.6,0.5,0.2,0.4,0.7],
[0,0,0,0,0,0,0,0,0,0,0,0,0.4,1.2,0.5,0.2,6.0,0.8,0.3,1.4,10.3,1.2,0.4,0.2,0.6,0.3,0.2,0.8,0.3,0.5,0.2],
[0,0,0,0,0,0,0,0,0,0,0,0,1.0,2.6,3.5,0.6,0.3,0.7,0.2,0.5,3.0,0.8,0.3,0.2,0.6,0.3,1.2,0.4,0.2,0.5,0.8],
[0,0,0,0,0,0,0,0,0,0,0,0,0.2,0.9,0.3,0.1,0.5,0.2,0.7,0.3,0.2,0.6,0.2,0.4,1.0,0.3,0.2,0.5,1.3,0.4,0.2],
[0,0,0,0,0,0,0,0,0,0,0,0,0.3,1.4,0.6,1.8,0.5,0.2,0.4,0.9,0.3,0.2,0.8,0.3,0.2,1.4,0.5,0.2,0.6,0.3,0.9],
[0,0,0,0,0,0,0,0,0,0,0,0,0.2,1.0,0.4,0.2,0.6,1.2,0.4,0.2,0.5,0.3,1.8,0.6,0.2,0.4,0.2,0.7,0.3,1.5,0.5],
[0,0,0,0,0,0,0,0,0,0,0,0,0.4,2.0,0.6,0.2,0.3,0.8,0.3,0.2,1.1,0.4,0.2,0.6,0.3,0.2,0.9,0.3,0.6,0.2,0.4],
[0,0,0,0,0,0,0,0,0,0,0,0,0.3,1.2,0.4,0.7,0.2,0.4,1.6,0.5,0.2,0.6,0.3,7.8,1.4,0.4,0.2,0.6,0.3,0.2,0.8],
[0,0,0,0,0,0,0,0,0,0,0,0,0.2,0.8,0.3,0.2,1.0,0.4,0.2,0.6,0.2,0.9,0.3,0.2,0.5,0.2,0.7,0.3,0.2,0.6,0.3],
[0,0,0,0,0,0,0,0,0,0,0,0,0.5,1.9,0.7,0.3,0.2,0.9,0.4,0.2,0.7,2.4,0.6,0.2,0.4,1.2,0.4,0.2,0.5,0.3,1.0],
[0,0,0,0,0,0,0,0,0,0,0,0,0.2,1.0,0.4,0.2,0.5,0.2,0.8,0.3,0.2,0.4,1.2,0.4,0.2,0.6,0.2,1.4,0.4,0.2,0.6],
[0,0,0,0,0,0,0,0,0,0,0,0,0.6,1.6,0.5,2.6,0.8,0.3,0.2,0.6,0.3,0.2,1.0,0.4,0.2,0.7,0.3,0.2,0.9,0.4,0.2],
[0,0,0,0,0,0,0,0,0,0,0,0,0.3,1.1,0.4,0.2,0.7,0.3,0.2,1.2,0.5,0.2,0.4,0.2,0.8,0.3,0.2,1.6,3.2,7.7,1.4],
[0,0,0,0,0,0,0,0,0,0,0,0,0.2,1.4,0.5,0.2,0.4,1.6,0.6,0.2,0.3,0.8,0.3,0.2,0.6,1.8,0.6,0.2,0.4,0.2,0.7],
[0,0,0,0,0,0,0,0,0,0,0,0,0.4,2.4,0.8,0.3,0.2,0.6,0.2,0.9,0.3,0.2,0.7,0.3,0.2,0.5,0.2,0.8,0.3,1.2,0.4],
[0,0,0,0,0,0,0,0,0,0,0,0,0.2,0.9,0.3,1.2,0.4,0.2,0.5,0.2,1.4,0.5,0.2,0.3,0.9,0.3,0.2,0.6,0.2,0.4,0.9],
[0,0,0,0,0,0,0,0,0,0,0,0,0.3,1.3,0.5,0.2,0.9,0.3,0.2,0.6,0.2,0.4,1.4,0.5,0.2,0.3,1.0,0.4,0.2,0.6,0.2],
[0,0,0,0,0,0,0,0,0,0,0,0,0.5,1.8,0.6,0.2,0.4,2.2,0.7,0.2,0.5,0.2,0.8,0.3,0.2,0.7,0.3,0.2,1.1,0.4,0.3],
[0,0,0,0,0,0,0,0,0,0,0,0,0.2,1.0,0.4,0.2,0.6,0.2,0.9,0.3,0.2,0.5,0.2,1.2,0.4,0.2,0.6,0.2,0.4,0.8,0.3],
[0,0,0,0,0,0,0,0,0,0,0,0,5.0,2.2,0.6,0.3,0.8,0.3,1.4,0.5,0.2,0.6,0.3,0.2,0.9,0.3,0.2,0.6,0.3,0.2,0.5]
];

// Ensemble mean (every 12 h)
const meanT850 = [2.7,1.9,1.0,-1.8,-3.2,0.8,2.3,2.2,4.6,7.3,8.4,7.7,6.7,2.2,-1.6,-2.0,-1.4,-0.4,0.0,-0.6,-1.0,-0.8,-0.7,-0.7,-0.3,0.1,0.7,0.7,0.5,0.1,-0.4];
const meanT500 = [-24.3,-25.8,-26.5,-26.6,-21.8,-19.3,-16.1,-16.1,-16.7,-15.8,-16.2,-16.8,-18.1,-23.8,-27.6,-26.5,-24.7,-23.5,-23.8,-24.7,-25.3,-25.0,-23.9,-23.0,-22.6,-22.1,-21.8,-21.4,-21.6,-22.6,-23.1];
const meanPrecip = [0.1,0.0,0.1,0.3,0.4,0.1,0.1,0.1,0.1,0.1,0.1,0.4,1.0,1.6,0.8,0.5,0.5,0.6,0.6,1.0,0.8,0.6,0.5,0.8,0.8,0.4,0.4,0.5,0.7,0.7,0.6];

// Control run (every 6 h)
const ctrlT850 = [2.7,1.8,2.0,1.5,0.8,-0.5,-1.8,-2.8,-3.2,-4.0,1.0,2.8,3.1,1.5,1.5,4.8,5.8,6.7,7.5,8.9,8.4,7.4,7.1,6.9,6.2,4.0,1.8,-0.5,-2.6,-2.9,-3.2,-1.8,-0.2,0.0,0.0,0.1,0.2,0.0,-0.6,-1.6,-2.6,-2.7,-2.8,-3.3,-2.6,-3.1,-3.6,-4.5,-2.5,0.0,1.8,2.9,3.6,2.7,-1.9,-1.1,3.9,-1.1,-1.5,-2.8,-2.9];
const ctrlT500 = [-24.3,-24.9,-25.9,-26.2,-26.6,-27.0,-26.8,-24.0,-21.4,-20.2,-19.2,-18.0,-16.2,-15.6,-15.8,-16.4,-16.6,-16.2,-15.7,-15.6,-15.8,-17.6,-17.0,-17.3,-18.1,-21.0,-25.0,-29.0,-31.9,-24.5,-24.2,-24.3,-23.1,-19.8,-19.7,-20.0,-20.8,-22.8,-26.0,-28.1,-30.4,-31.5,-30.8,-30.8,-30.8,-28.5,-24.5,-23.0,-19.7,-19.5,-18.5,-18.6,-20.4,-20.4,-20.2,-18.9,-20.0,-25.9,-23.1,-24.5,-24.3];
const ctrlPrecip = [0,0,0,0,0,0,0.2,0.6,0.1,0,0,0,0,0,0,0,0,0,0,0,0,0,0,0.1,0.3,3.2,0.6,2.7,0.1,0,0,0,0,0,0,0,0.1,0.2,0.5,2.4,0,0,0.1,0,0.1,0,0,0,0,0,0.1,0.6,4.9,0.9,0.4,0.3,4.8,3.1,0.5,0.2,0.1];

const panelLabels = ["Temp. 850hPa","Temp. 500hPa","Précipitations"];
const legendTexts = {mean:"Moyenne des scénarios", ctrl1:"Contrôle/Det", ctrl2:"CEP/ECMWF", perts:"50 Perts."};
const footer = ["Diagramme ensembles ECMWF/CEP 0.25° sur 360h pour Paris","Températures 850hPa et 500hPa (°C) , précipitations (mm)","Ensemble ECMWF/CEP du 13/12/2024 - 00Z","Copyright 2024 Meteociel.fr - ECMWF"];

// ---- layout constants ----
const mono = "'DejaVu Sans Mono', monospace";
const sans = "'Liberation Sans', Arial, sans-serif";
const precipBase = -45;           // 0 mm is drawn at the -45 °C line
const mmOffset = 45;              // right axis = left axis + 45
const yTop = 33, yBottom = 33 - 600 / 7;
const dayHours = dayLabels.map((d, i) => i * 24);

function memberRows(arr, offset) {
  const out = [];
  arr.forEach((vals, m) => vals.forEach((v, i) => out.push({h: i * 12, v: v + offset, m, c: memberColors[m]})));
  return out;
}
function seriesRows(vals, step, offset) {
  return vals.map((v, i) => ({h: i * step, v: v + offset}));
}
const rowsT850 = memberRows(t850, 0);
const rowsT500 = memberRows(t500, 0);
const rowsPr = memberRows(precip, precipBase);
const allMembers = rowsT850.concat(rowsT500, rowsPr);

const ctrlSets = [seriesRows(ctrlT850, 6, 0), seriesRows(ctrlT500, 6, 0), seriesRows(ctrlPrecip, 6, precipBase)];
const meanSets = [seriesRows(meanT850, 12, 0), seriesRows(meanT500, 12, 0), seriesRows(meanPrecip, 12, precipBase)];

const labelLevels = [4.0, -17.7, -42.8];

const plot = Plot.plot({
  width: 740, height: 635,
  marginLeft: 50, marginRight: 50, marginTop: 0, marginBottom: 35,
  style: {background: "white", overflow: "visible"},
  x: {domain: [0, 360], axis: null},
  y: {domain: [yBottom, yTop], axis: null},
  color: {type: "identity"},
  marks: [
    Plot.ruleY(tempTicks.filter(d => d % 10 !== 0), {stroke: "#c0c0c0", strokeWidth: 1}),
    Plot.ruleY(tempTicks.filter(d => d % 10 === 0 && d !== 0), {stroke: "#c0c0c0", strokeWidth: 2}),
    Plot.ruleX(dayHours, {stroke: "#c0c0c0", strokeWidth: 1}),
    Plot.ruleY([0], {stroke: "#a0a0a0", strokeWidth: 3}),
    Plot.line(rowsT850, {x: "h", y: "v", z: "m", stroke: "c", strokeWidth: 1, clip: true}),
    Plot.line(rowsT500, {x: "h", y: "v", z: "m", stroke: "c", strokeWidth: 1, clip: true}),
    Plot.line(rowsPr, {x: "h", y: "v", z: "m", stroke: "c", strokeWidth: 1, clip: true}),
    Plot.dot(allMembers, {x: "h", y: "v", stroke: "c", symbol: "plus", r: 1.6, strokeWidth: 1, clip: true}),
    ...ctrlSets.map(s => Plot.line(s, {x: "h", y: "v", stroke: "black", strokeWidth: 3.2})),
    ...meanSets.map(s => Plot.line(s, {x: "h", y: "v", stroke: "#ff0000", strokeWidth: 4.5, curve: "linear"})),
    Plot.ruleY([yBottom], {stroke: "black", strokeWidth: 2}),
    Plot.text(panelLabels, {x: 0, y: (d, i) => labelLevels[i], text: d => d, textAnchor: "start", dx: 10, fontFamily: mono, fontSize: 10.5, fill: "black"}),
    Plot.text(tempTicks, {y: d => d, text: d => String(d), frameAnchor: "left", textAnchor: "end", dx: -18, fontFamily: sans, fontSize: 11, fill: "black"}),
    Plot.text(tempTicks, {y: d => d, text: d => String(d + mmOffset), frameAnchor: "right", textAnchor: "start", dx: 20, fontFamily: sans, fontSize: 11, fill: "black"}),
    Plot.text(dayHours, {x: d => d, text: (d, i) => dayLabels[i], frameAnchor: "bottom", rotate: -90, textAnchor: "end", dx: 7.5, dy: 3, fontFamily: mono, fontSize: 10, fill: "black"}),
    Plot.text(["(°C)"], {frameAnchor: "bottom-left", text: d => d, textAnchor: "end", dx: -7, dy: 7, fontFamily: mono, fontSize: 10, fill: "black"}),
    Plot.text(["(mm)"], {frameAnchor: "bottom-right", text: d => d, textAnchor: "start", dx: 9, dy: 7, fontFamily: mono, fontSize: 10, fill: "black"})
  ]
});
document.getElementById("chart").appendChild(plot);

// ---- legend & footer ----
const svg = d3.select("#legend").append("svg").attr("width", 740).attr("height", 65)
  .style("font-family", mono);
svg.append("line").attr("x1", 35).attr("x2", 65).attr("y1", 4.7).attr("y2", 4.7).attr("stroke", "#ff0000").attr("stroke-width", 4.5);
svg.append("text").attr("x", 75).attr("y", 7.8).attr("font-size", 10).text(legendTexts.mean);
svg.append("line").attr("x1", 225).attr("x2", 257).attr("y1", 4.7).attr("y2", 4.7).attr("stroke", "black").attr("stroke-width", 4.5);
svg.append("text").attr("x", 265).attr("y", 7.8).attr("font-size", 10).text(legendTexts.ctrl1);
svg.append("text").attr("x", 265).attr("y", 18.8).attr("font-size", 10).text(legendTexts.ctrl2);
svg.append("text").attr("x", 369).attr("y", 21).attr("font-size", 10).text(legendTexts.perts);
const nCol = 25;
memberColors.forEach((c, i) => {
  const col = i % nCol, row = Math.floor(i / nCol);
  const x = 430 + col * 11;
  svg.append("rect").attr("x", x).attr("y", 10 + row * 6).attr("width", 11).attr("height", 6).attr("fill", c);
  svg.append("text").attr("x", x + 5.5).attr("y", row === 0 ? 6.2 : 30.2).attr("text-anchor", "middle")
    .attr("font-size", 6.3).attr("font-family", sans).text(String(i + 1).padStart(2, "0"));
});
svg.append("rect").attr("x", 20.5).attr("y", 32.5).attr("width", 420).attr("height", 31.5).attr("fill", "none").attr("stroke", "black");
svg.append("text").attr("x", 30).attr("y", 46).attr("font-size", 11.4).attr("font-weight", "bold").text(footer[0]);
svg.append("text").attr("x", 30).attr("y", 60).attr("font-size", 9.9).text(footer[1]);
svg.append("text").attr("x", 449).attr("y", 44.3).attr("font-size", 10.4).text(footer[2]);
svg.append("text").attr("x", 449).attr("y", 60.5).attr("font-size", 11.6).attr("font-weight", "bold").text(footer[3]);
</script>
</body></html>
